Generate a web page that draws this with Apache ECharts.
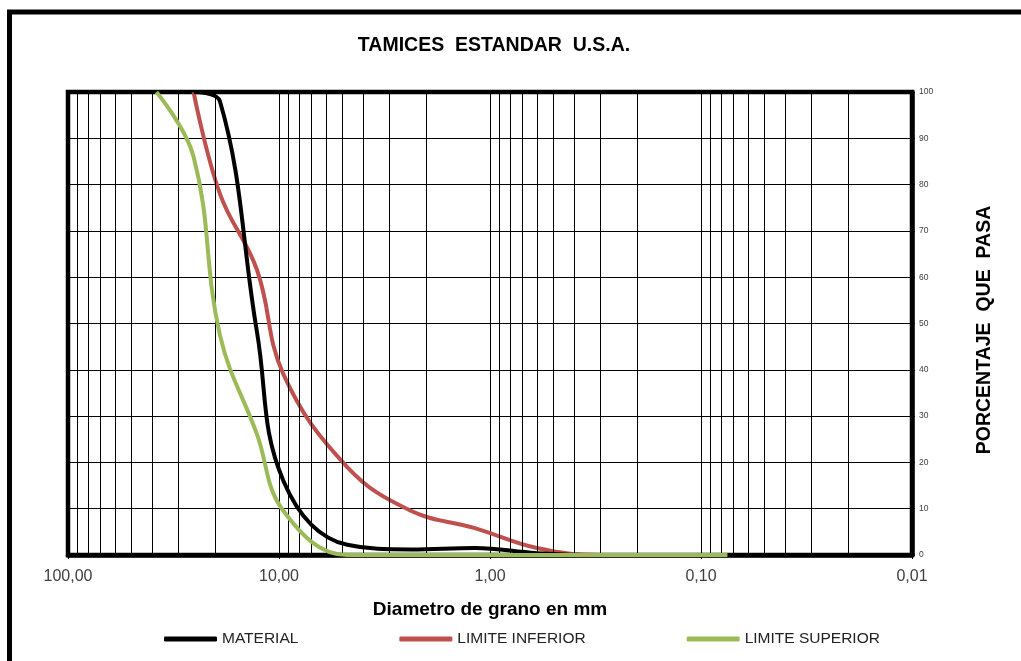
<!DOCTYPE html>
<html>
<head>
<meta charset="utf-8">
<script src="https://cdn.jsdelivr.net/npm/echarts@6/dist/echarts.min.js"></script>
<style>
html,body{margin:0;padding:0;background:#fff;}
#chart{width:1021px;height:661px;}
</style>
</head>
<body>
<div id="chart"></div>
<script>
// Sieve openings (mm)
const diameters = [38.1, 25.4, 19.05, 12.7, 9.525, 4.75, 2.36, 1.18, 0.6, 0.3, 0.15, 0.075];
// Percent passing (null = no value at that sieve)
const material       = [null, 100, 98, 48, 16, 2.2, 1.2, 1.5, 0.4, 0, 0, 0];
const limiteInferior = [null, 100, 78, 61.5, 39, 19, 9.5, 5.8, 1.5, 0, 0, 0];
const limiteSuperior = [100, 86, 47.5, 26, 9.5, 0, 0, 0, 0, 0, 0, 0];
// Gridline decades for minor vertical lines
const decades = [0.01, 0.1, 1, 10];
const minorSteps = [2, 3, 4, 5, 6, 7, 8, 9];
const yTicks = [0, 10, 20, 30, 40, 50, 60, 70, 80, 90, 100];

function pairs(vals) {
  const out = [];
  for (let i = 0; i < diameters.length; i++) {
    if (vals[i] !== null && vals[i] !== undefined) out.push([diameters[i], vals[i]]);
  }
  return out;
}
const minorLines = [];
decades.forEach(d => minorSteps.forEach(k => minorLines.push({ xAxis: +(d * k).toPrecision(6) })));

const chart = echarts.init(document.getElementById('chart'), null, { renderer: 'canvas' });
const FONT = '"Liberation Sans", Arial, sans-serif';
chart.setOption({
  animation: false,
  backgroundColor: '#fff',
  textStyle: { fontFamily: FONT },
  title: {
    text: 'TAMICES  ESTANDAR  U.S.A.',
    left: 489, top: 31, textAlign: 'center',
    textStyle: { fontFamily: FONT, fontWeight: 'bold', fontSize: 19.5, color: '#000' }
  },
  graphic: [
    { type: 'line', shape: { x1: 7, y1: 12, x2: 1021, y2: 12 }, style: { stroke: '#000', lineWidth: 5 } },
    { type: 'line', shape: { x1: 9.5, y1: 10, x2: 9.5, y2: 661 }, style: { stroke: '#000', lineWidth: 5 } }
  ],
  grid: {
    left: 68, right: 109, top: 92, bottom: 106,
    show: true, borderColor: '#000', borderWidth: 4.5, backgroundColor: 'transparent'
  },
  legend: {
    data: ['MATERIAL', 'LIMITE INFERIOR', 'LIMITE SUPERIOR'],
    left: 164, top: 631, padding: 0,
    icon: 'roundRect', itemWidth: 53, itemHeight: 5, itemGap: 101,
    textStyle: { fontFamily: FONT, fontSize: 15.5, color: '#222' }
  },
  xAxis: {
    type: 'log', logBase: 10, min: 0.01, max: 100, inverse: true, splitNumber: 4,
    name: 'Diametro de grano en mm', nameLocation: 'middle', nameGap: 45,
    nameTextStyle: { fontFamily: FONT, fontWeight: 'bold', fontSize: 19, color: '#000' },
    axisLine: { show: true, lineStyle: { color: '#000', width: 4.5 } },
    axisTick: { show: true, length: 4, lineStyle: { color: '#000', width: 1 } },
    axisLabel: {
      show: true, margin: 14, fontSize: 16, color: '#404040', fontFamily: FONT,
      showMinLabel: true, showMaxLabel: true,
      formatter: v => Number(v).toFixed(2).replace('.', ',')
    },
    splitLine: { show: true, lineStyle: { color: '#000', width: 1 } }
  },
  yAxis: {
    type: 'value', position: 'right', min: 0, max: 100, interval: 10,
    name: 'PORCENTAJE  QUE  PASA', nameLocation: 'middle', nameGap: 63, nameRotate: 90,
    nameTextStyle: { fontFamily: FONT, fontWeight: 'bold', fontSize: 19.5, color: '#000', padding: [0, 13, 0, 0] },
    axisLine: { show: true, lineStyle: { color: '#000', width: 4.5 } },
    axisTick: { show: true, length: 3, lineStyle: { color: '#000', width: 1 } },
    axisLabel: { show: true, margin: 7, fontSize: 8.5, color: '#404040', fontFamily: FONT,
      formatter: v => yTicks.indexOf(v) >= 0 ? String(v) : '' },
    splitLine: { show: true, lineStyle: { color: '#000', width: 1 } }
  },
  series: [
    {
      name: 'grid', type: 'line', data: [], z: 1, silent: true,
      markLine: {
        silent: true, symbol: ['none', 'none'], label: { show: false },
        lineStyle: { color: '#000', width: 1, type: 'solid' },
        emphasis: { disabled: true },
        data: minorLines
      }
    },
    {
      name: 'MATERIAL', type: 'line', data: pairs(material), smooth: 0.4, showSymbol: false,
      clip: false, z: 4, color: '#000', lineStyle: { color: '#000', width: 4 }
    },
    {
      name: 'LIMITE INFERIOR', type: 'line', data: pairs(limiteInferior), smooth: 0.4, showSymbol: false,
      clip: false, z: 3, color: '#c0504d', lineStyle: { color: '#c0504d', width: 4 }
    },
    {
      name: 'LIMITE SUPERIOR', type: 'line', data: pairs(limiteSuperior), smooth: 0.4, showSymbol: false,
      clip: false, z: 5, color: '#9bbb59', lineStyle: { color: '#9bbb59', width: 4 }
    }
  ]
});
</script>
</body>
</html>
